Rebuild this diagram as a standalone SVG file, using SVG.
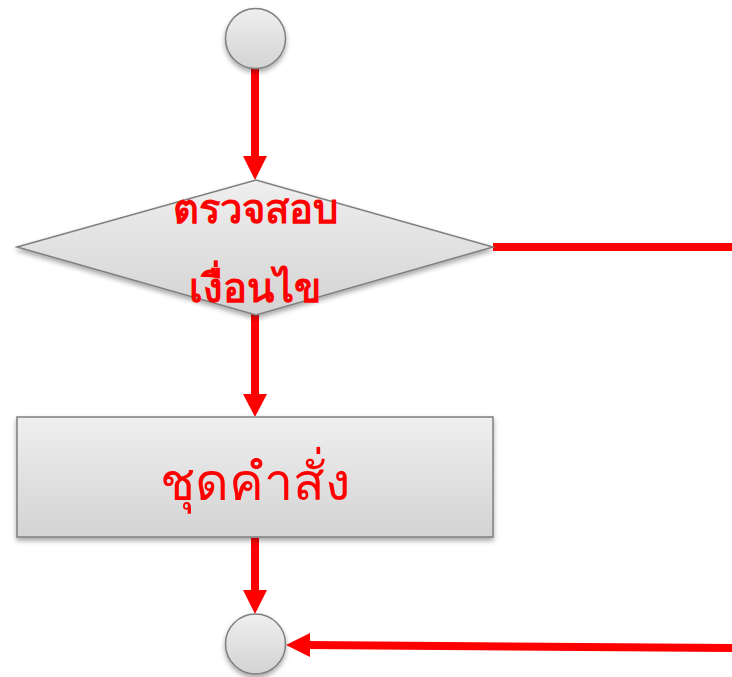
<svg xmlns="http://www.w3.org/2000/svg" width="732" height="677" viewBox="0 0 732 677">
<style>
.shape{stroke:#7f7f7f;stroke-width:1.5;fill:url(#g)}
.conn{stroke:#ff0000;stroke-width:8;fill:none}
.lbl{fill:#ff0000;text-anchor:middle;font-family:"Liberation Serif","DejaVu Serif",serif}
</style>
<defs>
<linearGradient id="g" x1="0" y1="0" x2="0" y2="1">
<stop offset="0" stop-color="#efefef"/>
<stop offset="1" stop-color="#d3d3d3"/>
</linearGradient>
<filter id="sh" x="-20%" y="-20%" width="140%" height="150%">
<feDropShadow dx="0" dy="3" stdDeviation="2.5" flood-color="#000" flood-opacity="0.35"/>
</filter>
</defs>
<g id="connectors">
<line class="conn" x1="255" y1="68" x2="255" y2="158"/>
<polygon points="243,156 267,156 255,180" fill="#ff0000"/>
<line class="conn" x1="255" y1="314" x2="255" y2="396"/>
<polygon points="243,394 267,394 255,417" fill="#ff0000"/>
<line class="conn" x1="255" y1="538" x2="255" y2="592"/>
<polygon points="243,590 267,590 255,614" fill="#ff0000"/>
<line class="conn" x1="493" y1="247" x2="732" y2="247"/>
<line class="conn" x1="732" y1="648" x2="307" y2="645"/>
<polygon points="310,633 310,657 286,645" fill="#ff0000"/>
</g>
<g id="start">
<circle class="shape" cx="255.5" cy="38.5" r="30" filter="url(#sh)"/>
</g>
<g id="decision">
<polygon class="shape" points="17,247 256,180 493,247 256,315" filter="url(#sh)"/>
<text class="lbl" x="255" y="223" font-size="40" font-weight="bold">ตรวจสอบ</text>
<text class="lbl" x="255" y="302" font-size="40" font-weight="bold">เงื่อนไข</text>
</g>
<g id="process">
<rect class="shape" x="17" y="417" width="476" height="120" filter="url(#sh)"/>
<text class="lbl" x="255" y="500" font-size="52">ชุดคำสั่ง</text>
</g>
<g id="end">
<circle class="shape" cx="255.5" cy="644" r="30" filter="url(#sh)"/>
</g>
</svg>
